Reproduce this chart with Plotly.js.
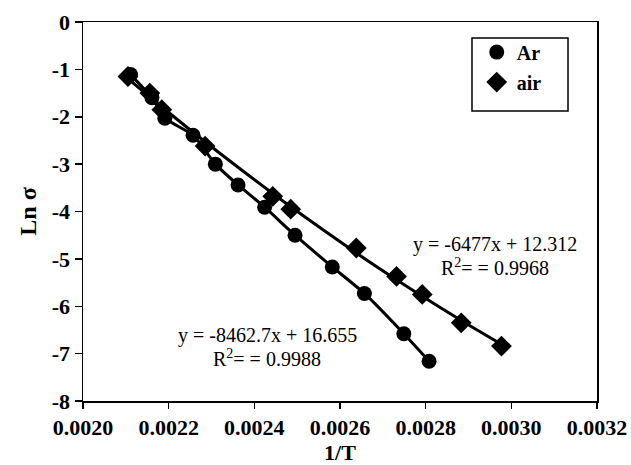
<!DOCTYPE html>
<html>
<head>
<meta charset="utf-8">
<script src="https://cdn.plot.ly/plotly-3.0.1.min.js"></script>
<style>html,body{margin:0;padding:0;background:#fff;}</style>
</head>
<body>
<div id="chart" style="width:631px;height:465px;"></div>
<script>
// Ar data (1/T, Ln sigma)
const arX = [0.002111, 0.002161, 0.002191, 0.002257, 0.002309, 0.002362, 0.002424, 0.002495, 0.002582, 0.002657, 0.002749, 0.002808];
const arY = [-1.11, -1.60, -2.03, -2.39, -3.00, -3.44, -3.91, -4.50, -5.17, -5.73, -6.58, -7.16];
// air data
const airX = [0.002105, 0.002156, 0.002184, 0.002285, 0.002443, 0.002485, 0.002638, 0.002732, 0.002792, 0.002883, 0.002977];
const airY = [-1.15, -1.50, -1.85, -2.62, -3.68, -3.95, -4.77, -5.37, -5.75, -6.35, -6.84];

const xTicks = [0.0020, 0.0022, 0.0024, 0.0026, 0.0028, 0.0030, 0.0032];
const xTickText = ["0.0020", "0.0022", "0.0024", "0.0026", "0.0028", "0.0030", "0.0032"];
const yTicks = [0, -1, -2, -3, -4, -5, -6, -7, -8];
const yTickText = ["0", "-1", "-2", "-3", "-4", "-5", "-6", "-7", "-8"];

const arEq = "y = -8462.7x + 16.655";
const arR2 = "R<sup>2</sup>= = 0.9988";
const airEq = "y = -6477x + 12.312";
const airR2 = "R<sup>2</sup>= = 0.9968";

// quadratic least-squares trend curve for air (like a spreadsheet trendline)
function quadFit(xs, ys) {
  const n = xs.length, m = xs.reduce((a,b)=>a+b,0)/n;
  const u = xs.map(x => (x - m) * 1000);
  let S = [0,0,0,0,0], T = [0,0,0];
  for (let i = 0; i < n; i++) {
    let p = 1;
    for (let k = 0; k < 5; k++) { S[k] += p; p *= u[i]; }
    T[0] += ys[i]; T[1] += ys[i]*u[i]; T[2] += ys[i]*u[i]*u[i];
  }
  const A = [[S[0],S[1],S[2],T[0]],[S[1],S[2],S[3],T[1]],[S[2],S[3],S[4],T[2]]];
  for (let c = 0; c < 3; c++) {
    for (let r = c+1; r < 3; r++) {
      const f = A[r][c]/A[c][c];
      for (let k = c; k < 4; k++) A[r][k] -= f*A[c][k];
    }
  }
  const co = [0,0,0];
  for (let r = 2; r >= 0; r--) {
    let s = A[r][3];
    for (let k = r+1; k < 3; k++) s -= A[r][k]*co[k];
    co[r] = s/A[r][r];
  }
  return x => { const v = (x - m)*1000; return co[0] + co[1]*v + co[2]*v*v; };
}
const airF = quadFit(airX, airY);
const airFitY = airX.map(airF);

const serif = "Liberation Serif, Times New Roman, serif";

const traces = [
  {x: arX, y: arY, mode: "lines", line: {color: "#000", width: 3, shape: "spline", smoothing: 0.6}, showlegend: false, hoverinfo: "skip"},
  {x: airX, y: airFitY, mode: "lines", line: {color: "#000", width: 3, shape: "spline"}, showlegend: false, hoverinfo: "skip"},
  {x: arX, y: arY, mode: "markers", name: "<b>Ar</b>", legendgroup: "a",
   marker: {symbol: "circle", size: 15, color: "#000"}},
  {x: airX, y: airY, mode: "markers", name: "<b>air</b>", legendgroup: "b",
   marker: {symbol: "diamond", size: 16, color: "#000"}}
];

const annFont = {family: serif, size: 20, color: "#000"};

const layout = {
  width: 631, height: 465,
  margin: {l: 83, r: 34, t: 22, b: 64},
  paper_bgcolor: "#fff", plot_bgcolor: "#fff",
  font: {family: serif, color: "#000", size: 16},
  showlegend: true,
  legend: {x: 0.766, y: 0.972, xanchor: "left", yanchor: "top",
    borderwidth: 0, bgcolor: "rgba(0,0,0,0)",
    font: {family: serif, size: 20, color: "#000"},
    tracegroupgap: 1, itemwidth: 30},
  shapes: [
    {type: "rect", xref: "paper", yref: "paper", x0: 0.7568, x1: 0.9436, y0: 0.7652, y1: 0.9578,
     line: {color: "#000", width: 1.5}, fillcolor: "rgba(0,0,0,0)", layer: "above"}
  ],
  xaxis: {range: [0.0020, 0.0032], tickvals: xTicks, ticktext: xTickText.map(t => "<b>" + t + "</b>"),
    ticks: "outside", ticklen: 6, tickwidth: 1.5, tickcolor: "#000",
    showline: true, linecolor: "#000", linewidth: 1.5, mirror: true,
    showgrid: false, zeroline: false,
    tickfont: {family: serif, size: 22, color: "#000"},
    title: {text: "<b>1/T</b>", font: {family: serif, size: 22, color: "#000"}, standoff: 8}},
  yaxis: {range: [-8, 0], tickvals: yTicks, ticktext: yTickText.map(t => "<b>" + t + "</b>"),
    ticks: "outside", ticklen: 7, tickwidth: 1.5, tickcolor: "#000",
    showline: true, linecolor: "#000", linewidth: 1.5, mirror: true,
    showgrid: false, zeroline: false,
    tickfont: {family: serif, size: 22, color: "#000"},
    title: {text: "<b>Ln σ</b>", font: {family: serif, size: 24, color: "#000"}, standoff: 8}},
  annotations: [
    {xref: "paper", yref: "paper", x: 0.8025, y: 0.4142, text: airEq, showarrow: false, xanchor: "center", yanchor: "middle", font: annFont},
    {xref: "paper", yref: "paper", x: 0.8025, y: 0.3536, text: airR2, showarrow: false, xanchor: "center", yanchor: "middle", font: annFont},
    {xref: "paper", yref: "paper", x: 0.358, y: 0.172, text: arEq, showarrow: false, xanchor: "center", yanchor: "middle", font: annFont},
    {xref: "paper", yref: "paper", x: 0.358, y: 0.114, text: arR2, showarrow: false, xanchor: "center", yanchor: "middle", font: annFont}
  ]
};

Plotly.newPlot("chart", traces, layout, {displayModeBar: false, staticPlot: true});
</script>
</body>
</html>
